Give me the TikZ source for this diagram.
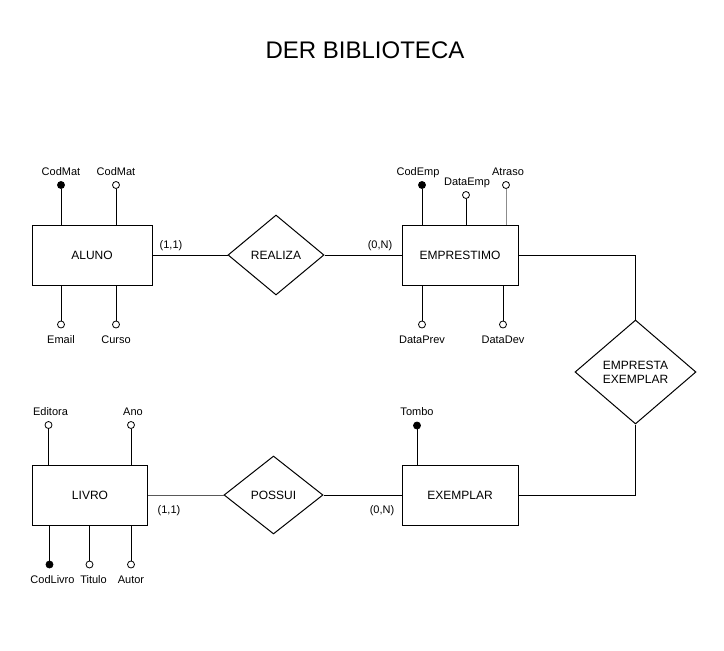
\documentclass[tikz,border=0pt]{standalone}
\usepackage{fontspec}
\setmainfont{Liberation Sans}
\usetikzlibrary{shapes.geometric, calc, positioning}
\tikzstyle{entity} = [rectangle, line width=1pt, minimum width=116pt, minimum height=60pt, text centered, draw=black, font=\fontsize{12}{14}\selectfont]
\tikzstyle{relation} = [diamond, line width=1pt, inner sep=0pt, text centered, align=center, draw=black, font=\fontsize{12}{14}\selectfont]
\tikzstyle{keyattr} = [circle, fill=black, draw=black, line width=0.8pt, inner sep=0pt, minimum size=7pt]
\tikzstyle{attr} = [circle, fill=white, draw=black, line width=0.8pt, inner sep=0pt, minimum size=7pt]
\tikzstyle{attrtext} = [inner sep=0pt, text height=8pt, text depth=2pt, font=\fontsize{11}{13}\selectfont]
\tikzstyle{card} = [inner sep=0pt, font=\fontsize{11}{13}\selectfont]
\tikzstyle{link} = [line width=1pt]
\begin{document}
\begin{tikzpicture}[x=1pt, y=-1pt, node distance = 3.5pt, auto]
		\useasboundingbox (0,0) rectangle (724,651);
		\node (Title) at (365,50) [font=\fontsize{24}{28}\selectfont] {DER BIBLIOTECA};
		% entidades e relacionamentos
		\node (Aluno) [entity, minimum width=120pt] at (92,255) {ALUNO};
		\node (Realiza) [relation, minimum width=96pt, minimum height=80pt] at (276,255) {REALIZA};
		\node (Emprestimo) [entity] at (460,255) {EMPRESTIMO};
		\node (EmprestaExemplar) [relation, minimum width=121pt, minimum height=104pt] at (635.5,372) {EMPRESTA\\EXEMPLAR};
		\node (Exemplar) [entity] at (460,495) {EXEMPLAR};
		\node (Possui) [relation, minimum width=99pt, minimum height=78pt] at (273.5,495) {POSSUI};
		\node (Livro) [entity, minimum width=115pt] at (90,495) {LIVRO};
		% atributos
		\node (CodMat1) [keyattr] at (61,185) {};
		\node (CodMat2) [attr] at (116,185) {};
		\node (Email) [attr] at (61,324.5) {};
		\node (Curso) [attr] at (116,324.5) {};
		\node (CodEmp) [keyattr] at (422,185) {};
		\node (DataEmp) [attr] at (466,195) {};
		\node (Atraso) [attr] at (506,185) {};
		\node (DataPrev) [attr] at (422,324.5) {};
		\node (DataDev) [attr] at (503,324.5) {};
		\node (Tombo) [keyattr] at (417,425.5) {};
		\node (Editora) [attr] at (48.5,425) {};
		\node (Ano) [attr] at (131,425) {};
		\node (CodLivro) [keyattr] at (49.5,564.5) {};
		\node (Titulo) [attr] at (89.5,564.5) {};
		\node (Autor) [attr] at (131,564.5) {};
		\node (CodMat1Text) [attrtext, above = of CodMat1] {CodMat};
		\node (CodMat2Text) [attrtext, above = of CodMat2] {CodMat};
		\node (EmailText) [attrtext, below = 6.5pt of Email] {Email};
		\node (CursoText) [attrtext, below = 6.5pt of Curso] {Curso};
		\node (CodEmpText) [attrtext, above = of CodEmp, xshift=-4pt] {CodEmp};
		\node (DataEmpText) [attrtext, above = of DataEmp, xshift=1pt] {DataEmp};
		\node (AtrasoText) [attrtext, above = of Atraso, xshift=2pt] {Atraso};
		\node (DataPrevText) [attrtext, below = 6.5pt of DataPrev] {DataPrev};
		\node (DataDevText) [attrtext, below = 6.5pt of DataDev] {DataDev};
		\node (TomboText) [attrtext, above = of Tombo] {Tombo};
		\node (EditoraText) [attrtext, above = of Editora, xshift=2pt] {Editora};
		\node (AnoText) [attrtext, above = of Ano, xshift=2pt] {Ano};
		\node (CodLivroText) [attrtext, below = 6.5pt of CodLivro, xshift=3pt] {CodLivro};
		\node (TituloText) [attrtext, below = 6.5pt of Titulo, xshift=4pt] {Titulo};
		\node (AutorText) [attrtext, below = 6.5pt of Autor] {Autor};
		\foreach \a/\e in {CodMat1/Aluno.north, CodMat2/Aluno.north, Email/Aluno.south, Curso/Aluno.south,
			CodEmp/Emprestimo.north, DataEmp/Emprestimo.north, DataPrev/Emprestimo.south, DataDev/Emprestimo.south,
			Tombo/Exemplar.north, Editora/Livro.north, Ano/Livro.north, CodLivro/Livro.south, Titulo/Livro.south, Autor/Livro.south}
			\draw [link] (\a) -- (\a |- \e);
		\draw [link, draw=black!45, line width=0.8pt] (Atraso) -- (Atraso |- Emprestimo.north);
		% cardinalidades
		\node (CardAluno) [card] at (171,246) {(1,1)};
		\node (CardEmprestimo) [card] at (380,246) {(0,N)};
		\node (CardLivro) [card] at (169,511) {(1,1)};
		\node (CardExemplar) [card] at (382,511) {(0,N)};
		\draw [link] (Aluno) -- (Realiza);
		\draw [link] (Realiza) -- (Emprestimo);
		\draw [link] (Emprestimo.east) -| (EmprestaExemplar.north);
		\draw [link] (EmprestaExemplar.south) |- (Exemplar.east);
		\draw [link, draw=black!65] (Livro) -- (Possui);
		\draw [link] (Possui) -- (Exemplar);
\end{tikzpicture}
\end{document}
